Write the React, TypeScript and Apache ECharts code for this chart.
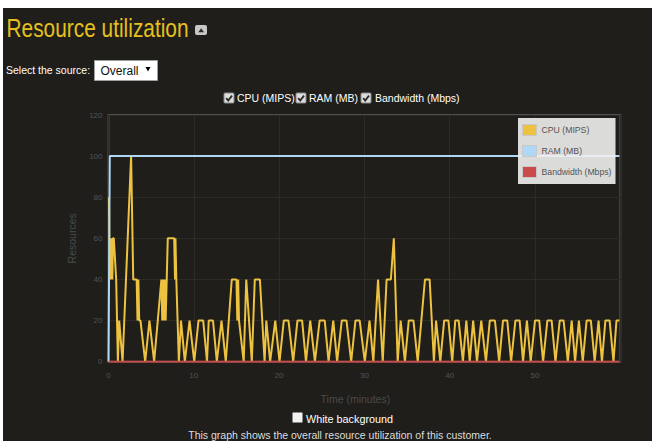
import React, { useEffect, useRef } from "react";
import * as echarts from "echarts";

// ---- data ----
const cpuTime = [
  0.05, 0.15, 0.22, 0.3, 0.38, 0.45, 0.52, 0.62, 0.9, 1.1, 1.25, 1.65, 2.65, 2.9, 3.3, 3.4, 3.5, 3.6, 3.75,
  4.3, 4.8, 5.35, 6.2, 6.3, 6.4, 6.5, 6.6, 6.7, 6.95, 7.7, 7.8, 7.85, 7.95, 8.25, 8.5, 8.95, 9.5, 10.05,
  10.55, 11.1, 11.55, 11.75, 12.25, 12.7, 13.25, 13.75, 14.45, 15.0, 15.1, 15.2, 15.3, 15.85, 16.15, 16.8,
  17.15, 17.75, 18.3, 18.5, 18.95, 19.55, 20.05, 20.55, 21.1, 21.65, 22.15, 22.7, 23.15, 23.65, 24.2, 24.75,
  25.35, 25.8, 26.35, 26.8, 27.35, 27.9, 28.45, 28.95, 29.45, 30.05, 30.6, 31.05, 31.6, 32.15, 32.6, 33.1,
  33.45, 33.9, 34.25, 34.75, 35.2, 35.75, 36.25, 37.1, 37.65, 38.15, 38.4, 38.9, 39.35, 39.85, 40.3, 40.65,
  41.05, 41.55, 41.95, 42.35, 42.75, 43.2, 43.7, 44.25, 44.7, 45.3, 45.8, 46.25, 46.75, 47.2, 47.7, 48.2,
  48.6, 49.05, 49.5, 50.0, 50.5, 50.95, 51.45, 51.95, 52.4, 52.9, 53.35, 53.85, 54.3, 54.7, 55.15, 55.6,
  56.05, 56.55, 57.0, 57.45, 57.85, 58.25, 58.75, 59.2, 59.55, 59.9,
];
const cpuValue = [
  80, 40, 60, 40, 60, 40, 60, 60, 40, 0, 20, 0, 100, 40, 40, 20, 40, 20, 20,
  0, 20, 0, 40, 20, 40, 20, 40, 20, 60, 60, 40, 60, 40, 0, 20, 0, 20, 0,
  20, 20, 0, 20, 20, 0, 20, 0, 40, 40, 20, 40, 20, 0, 40, 0,
  40, 40, 0, 20, 0, 20, 0, 20, 20, 0, 20, 20, 0, 20, 0, 20,
  20, 0, 20, 0, 20, 20, 0, 20, 20, 0, 20, 0, 40, 0, 40, 40,
  60, 0, 20, 0, 20, 20, 0, 40, 40, 0, 20, 0, 20, 20, 0, 20,
  20, 0, 20, 0, 20, 0, 20, 0, 20, 20, 0, 20, 20, 0, 20, 20,
  0, 20, 0, 20, 20, 0, 20, 20, 0, 20, 20, 0, 20, 0, 20, 0,
  20, 20, 0, 20, 0, 20, 20, 0, 20, 20,
];
const ramTime = [0, 0.15, 59.9];
const ramValue = [0, 100, 100];
const bwTime = [0, 59.9];
const bwValue = [0, 0];

const seriesNames = ["CPU (MIPS)", "RAM (MB)", "Bandwidth (Mbps)"];
const seriesColors = ["#edc240", "#afd8f8", "#cb4b4b"];
const xRange = { min: 0, max: 60, interval: 10 };
const yRange = { min: 0, max: 120, interval: 20 };

const FONT = '"Liberation Sans", Arial, sans-serif';

const zip = (t: number[], v: number[]) => t.map((x, i) => [x, v[i]]);

function checkbox(x: number, y: number, checked: boolean): any {
  const children: any[] = [
    {
      type: "rect",
      shape: { x, y, width: 10, height: 10, r: 1 },
      style: { fill: checked ? "#dcdcdc" : "#f2f2f2", stroke: "#8a8a8a", lineWidth: 1 },
    },
  ];
  if (checked) {
    children.push({
      type: "polyline",
      shape: { points: [[x + 2.2, y + 5.2], [x + 4.2, y + 7.6], [x + 8, y + 2.6]] },
      style: { stroke: "#2a2a2a", lineWidth: 1.8, fill: "none" },
    });
  }
  return { type: "group", children };
}

function label(text: string, x: number, y: number, size: number, fill: string, align = "left"): any {
  return {
    type: "text",
    x,
    y,
    style: { text, fill, fontSize: size, fontFamily: FONT, align, verticalAlign: "middle" },
  };
}

export default function App() {
  const ref = useRef<HTMLDivElement>(null);

  useEffect(() => {
    const chart = echarts.init(ref.current!, null, { renderer: "svg" });
    chart.setOption({
      animation: false,
      backgroundColor: "transparent",
      textStyle: { fontFamily: FONT },
      grid: {
        left: 108.5,
        right: 31.7,
        top: 115,
        bottom: 79.3,
        show: true,
        borderColor: "#4e4e4c",
        borderWidth: 2,
        backgroundColor: "transparent",
      },
      legend: {
        data: seriesNames,
        orient: "vertical",
        left: 518,
        top: 118,
        padding: [6, 4, 6, 4],
        itemGap: 9,
        itemWidth: 14,
        itemHeight: 11,
        icon: "rect",
        backgroundColor: "rgba(240,240,240,0.9)",
        itemStyle: { borderColor: "#c8c8c8", borderWidth: 1 },
        textStyle: { color: "#545454", fontSize: 8.7, fontFamily: FONT },
        selectedMode: false,
      },
      xAxis: {
        type: "value",
        min: xRange.min,
        max: xRange.max,
        interval: xRange.interval,
        axisLine: { show: false },
        axisTick: { show: false },
        axisLabel: { color: "#545454", fontSize: 8, margin: 10, showMaxLabel: false },
        splitLine: { show: true, lineStyle: { color: "#2c2b28", width: 1 } },
        name: "Time (minutes)",
        nameLocation: "middle",
        nameGap: 32,
        nameTextStyle: { color: "#4a4a4a", fontSize: 10.5, padding: [0, 18, 0, 0] },
      },
      yAxis: {
        type: "value",
        min: yRange.min,
        max: yRange.max,
        interval: yRange.interval,
        axisLine: { show: false },
        axisTick: { show: false },
        axisLabel: { color: "#545454", fontSize: 8, margin: 6 },
        splitLine: { show: true, lineStyle: { color: "#2c2b28", width: 1 } },
        name: "Resources",
        nameLocation: "middle",
        nameGap: 31.5,
        nameTextStyle: { color: "#4a4a4a", fontSize: 10.5 },
      },
      series: [
        {
          name: seriesNames[0],
          type: "line",
          data: zip(cpuTime, cpuValue),
          showSymbol: false,
          color: seriesColors[0],
          lineStyle: { width: 2, color: seriesColors[0] },
        },
        {
          name: seriesNames[1],
          type: "line",
          data: zip(ramTime, ramValue),
          showSymbol: false,
          color: seriesColors[1],
          lineStyle: { width: 2, color: seriesColors[1] },
        },
        {
          name: seriesNames[2],
          type: "line",
          data: zip(bwTime, bwValue),
          showSymbol: false,
          color: seriesColors[2],
          lineStyle: { width: 2, color: seriesColors[2] },
        },
      ],
      graphic: [
        {
          type: "text",
          x: 6.5,
          y: 28,
          scaleX: 0.835,
          style: {
            text: "Resource utilization",
            fill: "#e5c01e",
            fontSize: 25,
            fontFamily: FONT,
            align: "left",
            verticalAlign: "middle",
          },
        },
        {
          type: "rect",
          shape: { x: 195, y: 25, width: 12, height: 10, r: 2 },
          style: { fill: "#c8c8c8" },
        },
        {
          type: "polygon",
          shape: { points: [[198.3, 32.3], [204, 32.3], [201.15, 28.3]] },
          style: { fill: "#2a2a2a" },
        },
        label("Select the source:", 6, 70, 10.5, "#ffffff"),
        {
          type: "rect",
          shape: { x: 94.5, y: 60.5, width: 63, height: 20 },
          style: { fill: "#ffffff", stroke: "#a0a0a0", lineWidth: 1 },
        },
        label("Overall", 100.5, 70.5, 12, "#111111"),
        {
          type: "polygon",
          shape: { points: [[145.5, 67], [150.5, 67], [148, 71.5]] },
          style: { fill: "#000000" },
        },
        checkbox(224, 93, true),
        label("CPU (MIPS)", 237, 98, 10.5, "#ffffff"),
        checkbox(296, 93, true),
        label("RAM (MB)", 309, 98, 10.5, "#ffffff"),
        checkbox(361, 93, true),
        label("Bandwidth (Mbps)", 375, 98, 10.5, "#ffffff"),
        checkbox(292.5, 412.5, false),
        label("White background", 306, 418.5, 10.8, "#ffffff"),
        label(
          "This graph shows the overall resource utilization of this customer.",
          340,
          435,
          10.5,
          "#dddddd",
          "center"
        ),
      ],
    });
    return () => chart.dispose();
  }, []);

  return (
    <div style={{ position: "fixed", left: 0, top: 0, right: 0, bottom: 0, background: "#ffffff" }}>
      <div
        style={{ position: "absolute", left: 3, top: 8, right: 0, bottom: 0, background: "#1f1e1a" }}
      />
      <div ref={ref} style={{ position: "absolute", left: 0, top: 0, width: 652, height: 441 }} />
    </div>
  );
}
